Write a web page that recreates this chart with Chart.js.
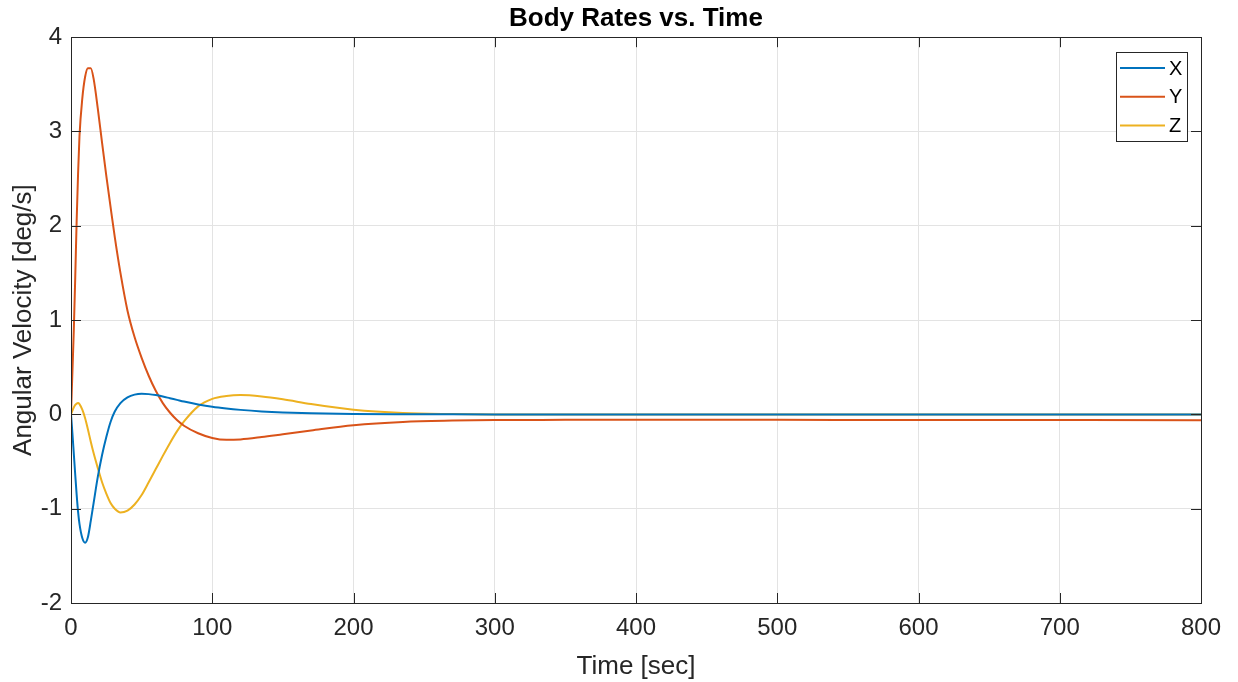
<!DOCTYPE html>
<html>
<head>
<meta charset="utf-8">
<script src="https://cdn.jsdelivr.net/npm/chart.js@4/dist/chart.umd.min.js"></script>
<style>
html,body{margin:0;padding:0;background:#fff;}
#wrap{width:1238px;height:682px;position:relative;}
</style>
</head>
<body>
<div id="wrap"><canvas id="c" width="1238" height="682"></canvas></div>
<script>
// ---- data ----
const timeSec = [0,1,2,3,4,5,6,8,10,12,14,16,19,22,25,28,31,35,40,45,50,55,60,65,70,75,80,90,100,110,120,135,150,170,200,235,270,300,350,400,500,600,700,800];
const rateX = [0,-0.2,-0.42,-0.64,-0.85,-1.03,-1.16,-1.31,-1.36,-1.3,-1.13,-0.94,-0.66,-0.43,-0.24,-0.08,0.03,0.12,0.18,0.21,0.22,0.215,0.205,0.19,0.172,0.154,0.136,0.105,0.08,0.062,0.048,0.032,0.021,0.012,0.005,0.002,0.0005,0,0,0,0,0,0,0];
const rateY = [0,0.45,0.9,1.45,2.05,2.55,2.95,3.35,3.58,3.67,3.67,3.56,3.24,2.88,2.53,2.2,1.88,1.5,1.1,0.82,0.6,0.41,0.25,0.12,0.02,-0.06,-0.12,-0.2,-0.25,-0.27,-0.265,-0.24,-0.21,-0.17,-0.115,-0.08,-0.066,-0.06,-0.058,-0.057,-0.058,-0.06,-0.06,-0.062];
const rateZ = [0,0.04,0.075,0.1,0.115,0.12,0.11,0.05,-0.04,-0.16,-0.29,-0.41,-0.57,-0.72,-0.84,-0.94,-1.0,-1.04,-1.02,-0.955,-0.855,-0.72,-0.58,-0.44,-0.305,-0.18,-0.075,0.085,0.165,0.195,0.205,0.19,0.16,0.11,0.05,0.015,0.004,0,0,0,0,0,0,0];
const seriesNames = ['X','Y','Z'];
const seriesColors = ['#0072BD','#D95319','#EDB120'];
const xTicks = [0,100,200,300,400,500,600,700,800];
const yTicks = [-2,-1,0,1,2,3,4];
const titleText = 'Body Rates vs. Time';
const xTitle = 'Time [sec]';
const yTitle = 'Angular Velocity [deg/s]';

const FONT = '"Liberation Sans", Arial, Helvetica, sans-serif';
const INK = '#262626';

function pts(vals){ return timeSec.map((t,i)=>({x:t,y:vals[i]})); }
const allVals = [rateX, rateY, rateZ];

const boxPlugin = {
  id:'boxTicks',
  afterDraw(chart){
    const {ctx, chartArea:a, scales} = chart;
    ctx.save();
    ctx.strokeStyle = INK;
    ctx.lineWidth = 1;
    const L = 10;
    ctx.beginPath();
    xTicks.forEach(v=>{
      const px = Math.round(scales.x.getPixelForValue(v))+0.5;
      ctx.moveTo(px,a.bottom); ctx.lineTo(px,a.bottom-L);
      ctx.moveTo(px,a.top); ctx.lineTo(px,a.top+L);
    });
    yTicks.forEach(v=>{
      const py = Math.round(scales.y.getPixelForValue(v))+0.5;
      ctx.moveTo(a.left,py); ctx.lineTo(a.left+L,py);
      ctx.moveTo(a.right,py); ctx.lineTo(a.right-L,py);
    });
    ctx.stroke();
    ctx.strokeRect(Math.round(a.left)+0.5, Math.round(a.top)+0.5, Math.round(a.right-a.left), Math.round(a.bottom-a.top));
    // legend inside
    const bw = 71, bh = 89;
    const bx = Math.round(a.right) - 14 - bw, by = Math.round(a.top) + 15;
    ctx.fillStyle = '#fff';
    ctx.fillRect(bx,by,bw,bh);
    ctx.strokeStyle = '#262626';
    ctx.lineWidth = 1;
    ctx.strokeRect(bx+0.5,by+0.5,bw,bh);
    ctx.font = '20px ' + FONT;
    ctx.textBaseline = 'middle';
    ctx.textAlign = 'left';
    chart.data.datasets.forEach((ds,i)=>{
      const yy = by + 16 + i*28.7;
      ctx.strokeStyle = ds.borderColor;
      ctx.lineWidth = 2;
      ctx.beginPath(); ctx.moveTo(bx+4,yy); ctx.lineTo(bx+49,yy); ctx.stroke();
      ctx.fillStyle = '#000';
      ctx.fillText(ds.label, bx+53, yy+1);
    });
    ctx.restore();
  }
};

new Chart(document.getElementById('c'), {
  type:'line',
  data:{
    datasets: seriesNames.map((n,i)=>({
      label:n,
      data:pts(allVals[i]),
      borderColor:seriesColors[i],
      backgroundColor:seriesColors[i],
      borderWidth:2,
      pointRadius:0,
      fill:false,
      cubicInterpolationMode:'monotone'
    }))
  },
  options:{
    responsive:false,
    animation:false,
    layout:{padding:{left:0,right:37,top:0,bottom:0}},
    plugins:{
      legend:{display:false},
      tooltip:{enabled:false},
      title:{display:true,fullSize:false,text:titleText,color:'#000',font:{family:FONT,size:26,weight:'bold'},padding:{top:3,bottom:3}}
    },
    scales:{
      x:{
        type:'linear',min:0,max:800,
        afterBuildTicks(s){ s.ticks = xTicks.map(v=>({value:v})); },
        grid:{color:'#e3e3e3',drawTicks:false},
        border:{display:false},
        ticks:{color:INK,font:{family:FONT,size:24},padding:11,maxRotation:0},
        title:{display:true,text:xTitle,color:INK,font:{family:FONT,size:26},padding:{top:0,bottom:0}},
        afterFit(s){ s.height = 79; }
      },
      y:{
        type:'linear',min:-2,max:4,
        afterBuildTicks(s){ s.ticks = yTicks.map(v=>({value:v})); },
        grid:{color:'#e3e3e3',drawTicks:false},
        border:{display:false},
        ticks:{color:INK,font:{family:FONT,size:24},padding:9},
        title:{display:true,text:yTitle,color:INK,font:{family:FONT,size:26},padding:{top:8,bottom:0}},
        afterFit(s){ s.width = 71; }
      }
    }
  },
  plugins:[boxPlugin]
});
</script>
</body>
</html>
